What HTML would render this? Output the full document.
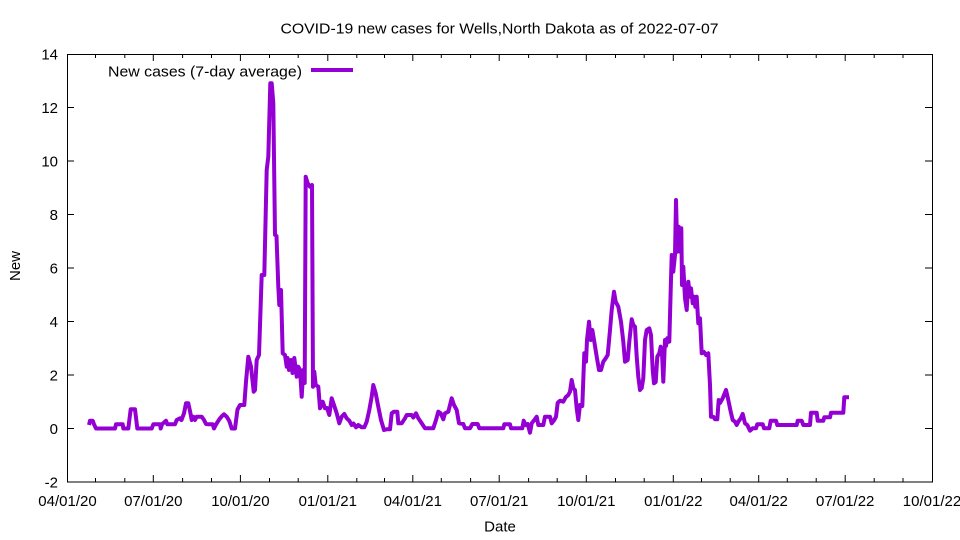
<!DOCTYPE html>
<html>
<head>
<meta charset="utf-8">
<style>
html,body{margin:0;padding:0;background:#fff;}
svg{display:block;}
text{font-family:"Liberation Sans",Arial,sans-serif;fill:#000;}
</style>
</head>
<body>
<svg width="960" height="540" viewBox="0 0 960 540" xmlns="http://www.w3.org/2000/svg">
<rect width="960" height="540" fill="#fff"/>
<!-- title -->
<text x="499.5" y="33.3" font-size="15" text-anchor="middle" textLength="438" lengthAdjust="spacingAndGlyphs">COVID-19 new cases for Wells,North Dakota as of 2022-07-07</text>
<!-- axis labels -->
<text x="500" y="531.5" font-size="15" text-anchor="middle">Date</text>
<text transform="translate(20,266) rotate(-90)" font-size="15" text-anchor="middle">New</text>

<!-- frame -->
<rect x="67.5" y="54.5" width="865" height="427.5" fill="none" stroke="#000" stroke-width="1"/>

<!-- y ticks -->
<g stroke="#000" stroke-width="1">
<line x1="67" y1="482" x2="74" y2="482"/><line x1="932" y1="482" x2="925" y2="482"/>
<line x1="67" y1="428.5" x2="74" y2="428.5"/><line x1="932" y1="428.5" x2="925" y2="428.5"/>
<line x1="67" y1="375" x2="74" y2="375"/><line x1="932" y1="375" x2="925" y2="375"/>
<line x1="67" y1="321.5" x2="74" y2="321.5"/><line x1="932" y1="321.5" x2="925" y2="321.5"/>
<line x1="67" y1="268" x2="74" y2="268"/><line x1="932" y1="268" x2="925" y2="268"/>
<line x1="67" y1="214.5" x2="74" y2="214.5"/><line x1="932" y1="214.5" x2="925" y2="214.5"/>
<line x1="67" y1="161" x2="74" y2="161"/><line x1="932" y1="161" x2="925" y2="161"/>
<line x1="67" y1="107.5" x2="74" y2="107.5"/><line x1="932" y1="107.5" x2="925" y2="107.5"/>
</g>
<g font-size="15" text-anchor="end">
<text x="58" y="487.5">-2</text>
<text x="58" y="434">0</text>
<text x="58" y="380.5">2</text>
<text x="58" y="327">4</text>
<text x="58" y="273.5">6</text>
<text x="58" y="220">8</text>
<text x="58" y="166.5">10</text>
<text x="58" y="113">12</text>
<text x="58" y="59.5">14</text>
</g>

<!-- x major ticks -->
<g stroke="#000" stroke-width="1">
<line x1="153.3" y1="482" x2="153.3" y2="475"/><line x1="153.3" y1="54" x2="153.3" y2="61"/>
<line x1="240.4" y1="482" x2="240.4" y2="475"/><line x1="240.4" y1="54" x2="240.4" y2="61"/>
<line x1="327.8" y1="482" x2="327.8" y2="475"/><line x1="327.8" y1="54" x2="327.8" y2="61"/>
<line x1="412.8" y1="482" x2="412.8" y2="475"/><line x1="412.8" y1="54" x2="412.8" y2="61"/>
<line x1="499.2" y1="482" x2="499.2" y2="475"/><line x1="499.2" y1="54" x2="499.2" y2="61"/>
<line x1="586.3" y1="482" x2="586.3" y2="475"/><line x1="586.3" y1="54" x2="586.3" y2="61"/>
<line x1="673.3" y1="482" x2="673.3" y2="475"/><line x1="673.3" y1="54" x2="673.3" y2="61"/>
<line x1="758.7" y1="482" x2="758.7" y2="475"/><line x1="758.7" y1="54" x2="758.7" y2="61"/>
<line x1="845.2" y1="482" x2="845.2" y2="475"/><line x1="845.2" y1="54" x2="845.2" y2="61"/>
</g>
<!-- x minor ticks -->
<g stroke="#000" stroke-width="1">
<line x1="95.5" y1="482" x2="95.5" y2="478"/><line x1="95.5" y1="54" x2="95.5" y2="58"/>
<line x1="124.8" y1="482" x2="124.8" y2="478"/><line x1="124.8" y1="54" x2="124.8" y2="58"/>
<line x1="182.6" y1="482" x2="182.6" y2="478"/><line x1="182.6" y1="54" x2="182.6" y2="58"/>
<line x1="211.5" y1="482" x2="211.5" y2="478"/><line x1="211.5" y1="54" x2="211.5" y2="58"/>
<line x1="269.5" y1="482" x2="269.5" y2="478"/><line x1="269.5" y1="54" x2="269.5" y2="58"/>
<line x1="298.2" y1="482" x2="298.2" y2="478"/><line x1="298.2" y1="54" x2="298.2" y2="58"/>
<line x1="356.8" y1="482" x2="356.8" y2="478"/><line x1="356.8" y1="54" x2="356.8" y2="58"/>
<line x1="384.5" y1="482" x2="384.5" y2="478"/><line x1="384.5" y1="54" x2="384.5" y2="58"/>
<line x1="441.3" y1="482" x2="441.3" y2="478"/><line x1="441.3" y1="54" x2="441.3" y2="58"/>
<line x1="470.6" y1="482" x2="470.6" y2="478"/><line x1="470.6" y1="54" x2="470.6" y2="58"/>
<line x1="528.6" y1="482" x2="528.6" y2="478"/><line x1="528.6" y1="54" x2="528.6" y2="58"/>
<line x1="557.2" y1="482" x2="557.2" y2="478"/><line x1="557.2" y1="54" x2="557.2" y2="58"/>
<line x1="615.5" y1="482" x2="615.5" y2="478"/><line x1="615.5" y1="54" x2="615.5" y2="58"/>
<line x1="644.2" y1="482" x2="644.2" y2="478"/><line x1="644.2" y1="54" x2="644.2" y2="58"/>
<line x1="701.5" y1="482" x2="701.5" y2="478"/><line x1="701.5" y1="54" x2="701.5" y2="58"/>
<line x1="730.2" y1="482" x2="730.2" y2="478"/><line x1="730.2" y1="54" x2="730.2" y2="58"/>
<line x1="787.3" y1="482" x2="787.3" y2="478"/><line x1="787.3" y1="54" x2="787.3" y2="58"/>
<line x1="816.2" y1="482" x2="816.2" y2="478"/><line x1="816.2" y1="54" x2="816.2" y2="58"/>
<line x1="874.2" y1="482" x2="874.2" y2="478"/><line x1="874.2" y1="54" x2="874.2" y2="58"/>
<line x1="903" y1="482" x2="903" y2="478"/><line x1="903" y1="54" x2="903" y2="58"/>
</g>
<g font-size="15" text-anchor="middle">
<text x="67.5" y="506">04/01/20</text>
<text x="153.3" y="506">07/01/20</text>
<text x="240.4" y="506">10/01/20</text>
<text x="327.8" y="506">01/01/21</text>
<text x="412.8" y="506">04/01/21</text>
<text x="499.2" y="506">07/01/21</text>
<text x="586.3" y="506">10/01/21</text>
<text x="673.3" y="506">01/01/22</text>
<text x="758.7" y="506">04/01/22</text>
<text x="845.2" y="506">07/01/22</text>
<text x="932" y="506">10/01/22</text>
</g>

<!-- legend -->
<text x="302" y="76.7" font-size="15" text-anchor="end" textLength="194" lengthAdjust="spacingAndGlyphs">New cases (7-day average)</text>
<line x1="311" y1="70" x2="353" y2="70" stroke="#9400D3" stroke-width="4"/>

<!-- series -->
<polyline fill="none" stroke="#9400D3" stroke-width="4" stroke-linejoin="round" stroke-linecap="butt" points="
89,425 90,420.7 92.7,420.7 94,424.3 96,428.5 115,428.5 116,424.3 122.7,424.3 123.3,428.5 128.3,428.5
130.7,409.3 135,409.3 137.3,428.5 151.7,428.5 153.3,424.3 160,424.3 160.7,428.5 162,424.3 166,420.7 167.3,424.3
175,424.3 176.7,420 180,418.3 181.5,420 184,413.3 186,403.3 188.3,403.3 190,411 191.7,420 193.3,416.7
195,420 196.7,416.7 201.7,416.7 204,420 206,424 208.3,424.3 212.7,424.3 214,428.5 216,424.5 219.3,419.3
222,416 224,414.3 226.7,416.7 229.3,421 231.7,428.5 235,428.5 237.5,409.5 240,405 244.3,405 246,381.7
248.3,356.7 251,366.7 253.7,391.7 255,390 256.7,360 259,355 261.7,275 264.3,275 266.7,170 268.3,156.7
270.3,83.3 271.7,83.3 273.3,103 275,235 276.5,236 278.3,286.7 279.3,305 281,290 282.7,353.3 285,355
286.7,366.7 287.5,358 289,370 291,360 292.5,373 294.3,358 296.7,376.7 298.3,366.7 300,370 301.7,396.7
303.3,370 304.7,383 305.7,176.7 307.7,183.3 310,186.7 312,185 313,386.7 314.3,371.7 315.7,385 318.3,386.7
320,408.3 322.7,401.7 325,408.3 327,408 329.3,415 331.7,398.3 334,405 336.7,413.3 339.3,423.3 341.7,416.7
344.3,414 346.7,418.3 349.3,420.7 351.7,425 353.5,423.5 356,427.3 358.3,425 361.7,427.3 364.3,427.3 366.7,421.7
369.3,410 371.7,396.7 373.3,385 375.7,393.3 378.3,406.7 381,420 384,430 386.7,429.3 390,429.3 391.7,413.3
394,411.7 397.3,411.7 398.3,423.3 401.7,423.3 405,418.3 406.7,415 411.7,415 413.3,417.5 416,413.3 418.3,418.3
421.7,423.3 425,428.3 433.3,428.3 436,420 438.3,411.7 440.7,413.3 443.3,419.3 445,413.3 448.3,411.7 450,405
451.7,398.3 454,405 456.7,410 459,423.3 463.3,424 465,428.3 470,428.3 472.3,424 477.7,424 479.3,428.3
503.3,428.3 504.3,424.3 510,424.3 511,428.3 522.3,428.3 523.7,420.7 525.7,425 527.7,424 530,432.7 531.7,423.3
534.3,420 536.7,416.7 538.3,425 543.3,425 545,416.7 550,416.7 551.7,423.3 554.3,420 556,416.7 557.7,402.7
560,400.7 563.3,401.7 565.7,397.3 568.3,395 570,391.7 571.7,380 573.3,388.3 575,390 576.7,408.3 578.3,420
580,405 582.3,406 584.3,353.3 586,361.7 587,340 589,321.7 590.7,340 592.3,330 594.3,341.7 596.7,356.7
599,370 601,370 603.3,361.7 605.7,358.3 607.7,355 610,330 611.7,310 614,291.7 615.7,301.7 618.3,306.7
621,321.7 623.3,341.7 625,361.7 627.7,360 629.3,341.7 631.7,319.3 633.3,325 635,326.7 636.7,356.7 638.3,376.7
640,390 641.7,388 643.3,378.3 645,340 646.7,330 649.3,328.3 651,335 652.7,370 654,383.3 655.7,382
657.3,356.7 659.3,353.3 660.7,346.7 662,353 663.3,381.7 665,340 666,346 667.3,338.3 669.3,341.7 670.7,290
671.7,255 673.3,271.7 675,255 676,200 677.3,251.7 678.7,226.7 680,251.7 681.3,228.3 682,285 683.3,266.7
685,298.3 686.7,310 688.3,281.7 690,296.7 691,288.3 692.7,303.3 694,296.7 695.3,306.7 696.7,296.7 698.3,323.3
700,318.3 701.7,353.3 704,352 706,355 708.3,353.3 710,385 711,416.7 713.3,416.7 715,419.3 717.3,419.3
718.7,400 720,403 722.7,398.3 724,395 726,390 728.3,400 730.7,411.7 732.7,420 735,421.7 736.7,425
738.3,421.7 740.7,418.3 742.7,414 745,423.3 747.3,425 750,430.7 752.7,428.3 756,428.3 757.3,424.3 762.7,424.3
764,428.3 769.3,428.3 770.7,420.7 776,420.7 777.3,425 796.7,425 797.7,420.7 801.7,420.7 803.3,425 810,425
811,412.7 816.7,412.7 817.7,420.7 823.3,420.7 824.3,417.3 830,417.3 831,412.7 843.3,412.7 844.3,397.3 849,397.3"/>
</svg>
</body>
</html>
